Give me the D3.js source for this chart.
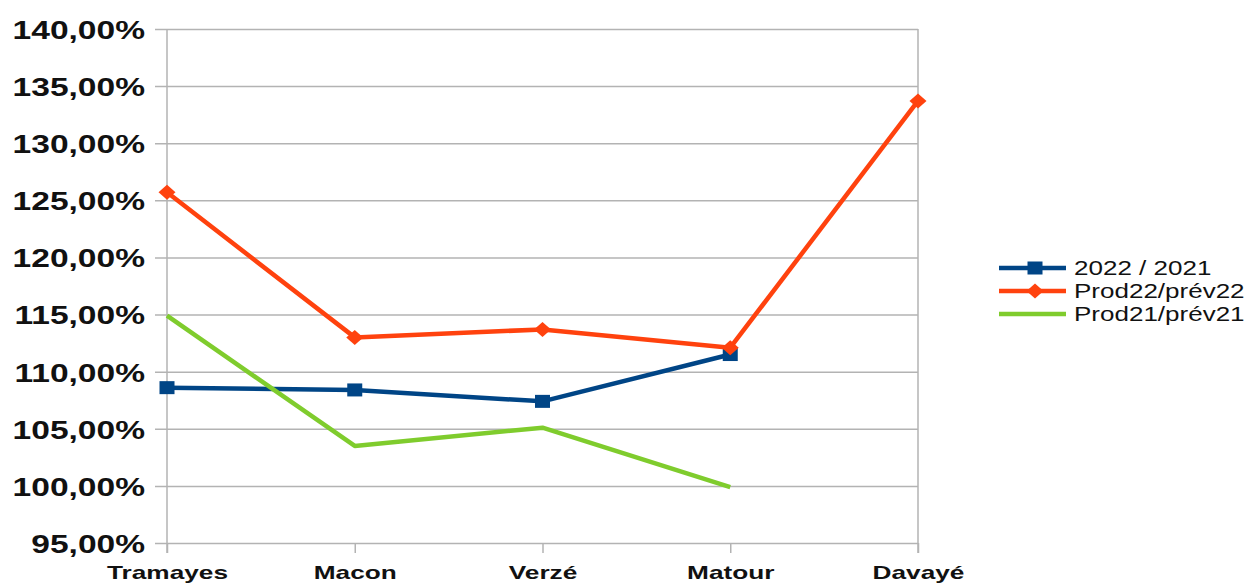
<!DOCTYPE html>
<html>
<head>
<meta charset="utf-8">
<script src="https://cdn.jsdelivr.net/npm/d3@7"></script>
<style>
  body { margin: 0; background: #fff; }
  text { font-family: "Liberation Sans", Arial, sans-serif; fill: #111; }
</style>
</head>
<body>
<div id="chart"></div>
<script>
var svgWidth = 1255;
var svgHeight = 583;

// DATA
var sites = ["Tramayes", "Macon", "Verzé", "Matour", "Davayé"];
var ratio2022_2021 = [108.6, 108.4, 107.4, 111.5, null];
var prod22_prev22 = [125.7, 113.0, 113.7, 112.1, 133.7];
var prod21_prev21 = [114.9, 103.5, 105.1, 99.9, null];
var yDomain = [95, 140];

var series = [
  { name: "2022 / 2021", values: ratio2022_2021, color: "#004586", marker: "square" },
  { name: "Prod22/prév22", values: prod22_prev22, color: "#ff420e", marker: "diamond" },
  { name: "Prod21/prév21", values: prod21_prev21, color: "#7fcc2d", marker: null }
];

var plot = { left: 167, right: 918, top: 29, bottom: 543 };

var svg = d3.select("#chart").append("svg")
  .attr("width", svgWidth)
  .attr("height", svgHeight);

var x = d3.scalePoint().domain(sites).range([plot.left, plot.right]).padding(0);
var y = d3.scaleLinear().domain(yDomain).range([plot.bottom, plot.top]);

function fmt(d) { return d.toFixed(2).replace(".", ",") + "%"; }

// text in the picture is drawn wide, so stretch it
function widen(sel, k) {
  sel.each(function() {
    var w = this.getComputedTextLength();
    d3.select(this).attr("textLength", w * k).attr("lengthAdjust", "spacingAndGlyphs");
  });
}

// GRID + Y AXIS
var yAxis = svg.append("g")
  .attr("transform", `translate(${plot.left},0)`)
  .call(d3.axisLeft(y).ticks(10).tickSize(12).tickPadding(10).tickFormat(fmt));
yAxis.select(".domain").remove();
yAxis.selectAll(".tick line").attr("stroke", "#b3b3b3").attr("stroke-width", 1.5)
  .attr("x2", plot.right - plot.left).attr("x1", -12);
yAxis.selectAll(".tick text")
  .attr("font-size", 26).attr("font-weight", "bold")
  .attr("font-family", "Liberation Sans, Arial, sans-serif")
  .attr("fill", "#111").attr("dy", "0.36em")
  .call(widen, 1.29);

// side borders
svg.append("g").selectAll("line")
  .data([plot.left, plot.right])
  .enter().append("line")
  .attr("x1", d => d).attr("x2", d => d)
  .attr("y1", plot.top).attr("y2", plot.bottom + 10)
  .attr("stroke", "#b3b3b3").attr("stroke-width", 1.5);

// X AXIS
var xAxis = svg.append("g")
  .attr("transform", `translate(0,${plot.bottom})`)
  .call(d3.axisBottom(x).tickSize(10).tickPadding(13));
xAxis.select(".domain").remove();
xAxis.selectAll(".tick line").attr("stroke", "#b3b3b3").attr("stroke-width", 1.5);
xAxis.selectAll(".tick text")
  .attr("font-size", 19).attr("font-weight", "bold")
  .attr("font-family", "Liberation Sans, Arial, sans-serif")
  .attr("fill", "#111")
  .call(widen, 1.38);

// LINES
var line = d3.line()
  .defined(d => d.v != null)
  .x(d => x(d.site))
  .y(d => y(d.v));

function drawMarker(g, type, color) {
  if (type === "square") {
    g.append("rect").attr("x", -7.5).attr("y", -6.5).attr("width", 15).attr("height", 13).attr("fill", color);
  } else if (type === "diamond") {
    g.append("path").attr("d", "M0,-7.5L8.5,0L0,7.5L-8.5,0Z").attr("fill", color);
  }
}

series.forEach(function(s) {
  var pts = sites.map((site, i) => ({ site: site, v: s.values[i] }));
  svg.append("path")
    .datum(pts)
    .attr("fill", "none")
    .attr("stroke", s.color)
    .attr("stroke-width", 4.5)
    .attr("stroke-linejoin", "round")
    .attr("d", line);
  if (s.marker) {
    pts.filter(d => d.v != null).forEach(function(d) {
      var g = svg.append("g").attr("transform", `translate(${x(d.site)},${y(d.v)})`);
      drawMarker(g, s.marker, s.color);
    });
  }
});

// LEGEND
var legend = svg.append("g").attr("transform", "translate(999,268)");
series.forEach(function(s, i) {
  var row = legend.append("g").attr("transform", `translate(0,${i * 23})`);
  row.append("line").attr("x1", 0).attr("x2", 67).attr("y1", 0).attr("y2", 0)
    .attr("stroke", s.color).attr("stroke-width", 4.5);
  if (s.marker) {
    var m = row.append("g").attr("transform", "translate(36,0)");
    drawMarker(m, s.marker, s.color);
  }
  row.append("text")
    .attr("x", 75).attr("y", 0).attr("dy", "0.36em")
    .attr("font-size", 20)
    .text(s.name)
    .call(widen, 1.3);
});
</script>
</body>
</html>
